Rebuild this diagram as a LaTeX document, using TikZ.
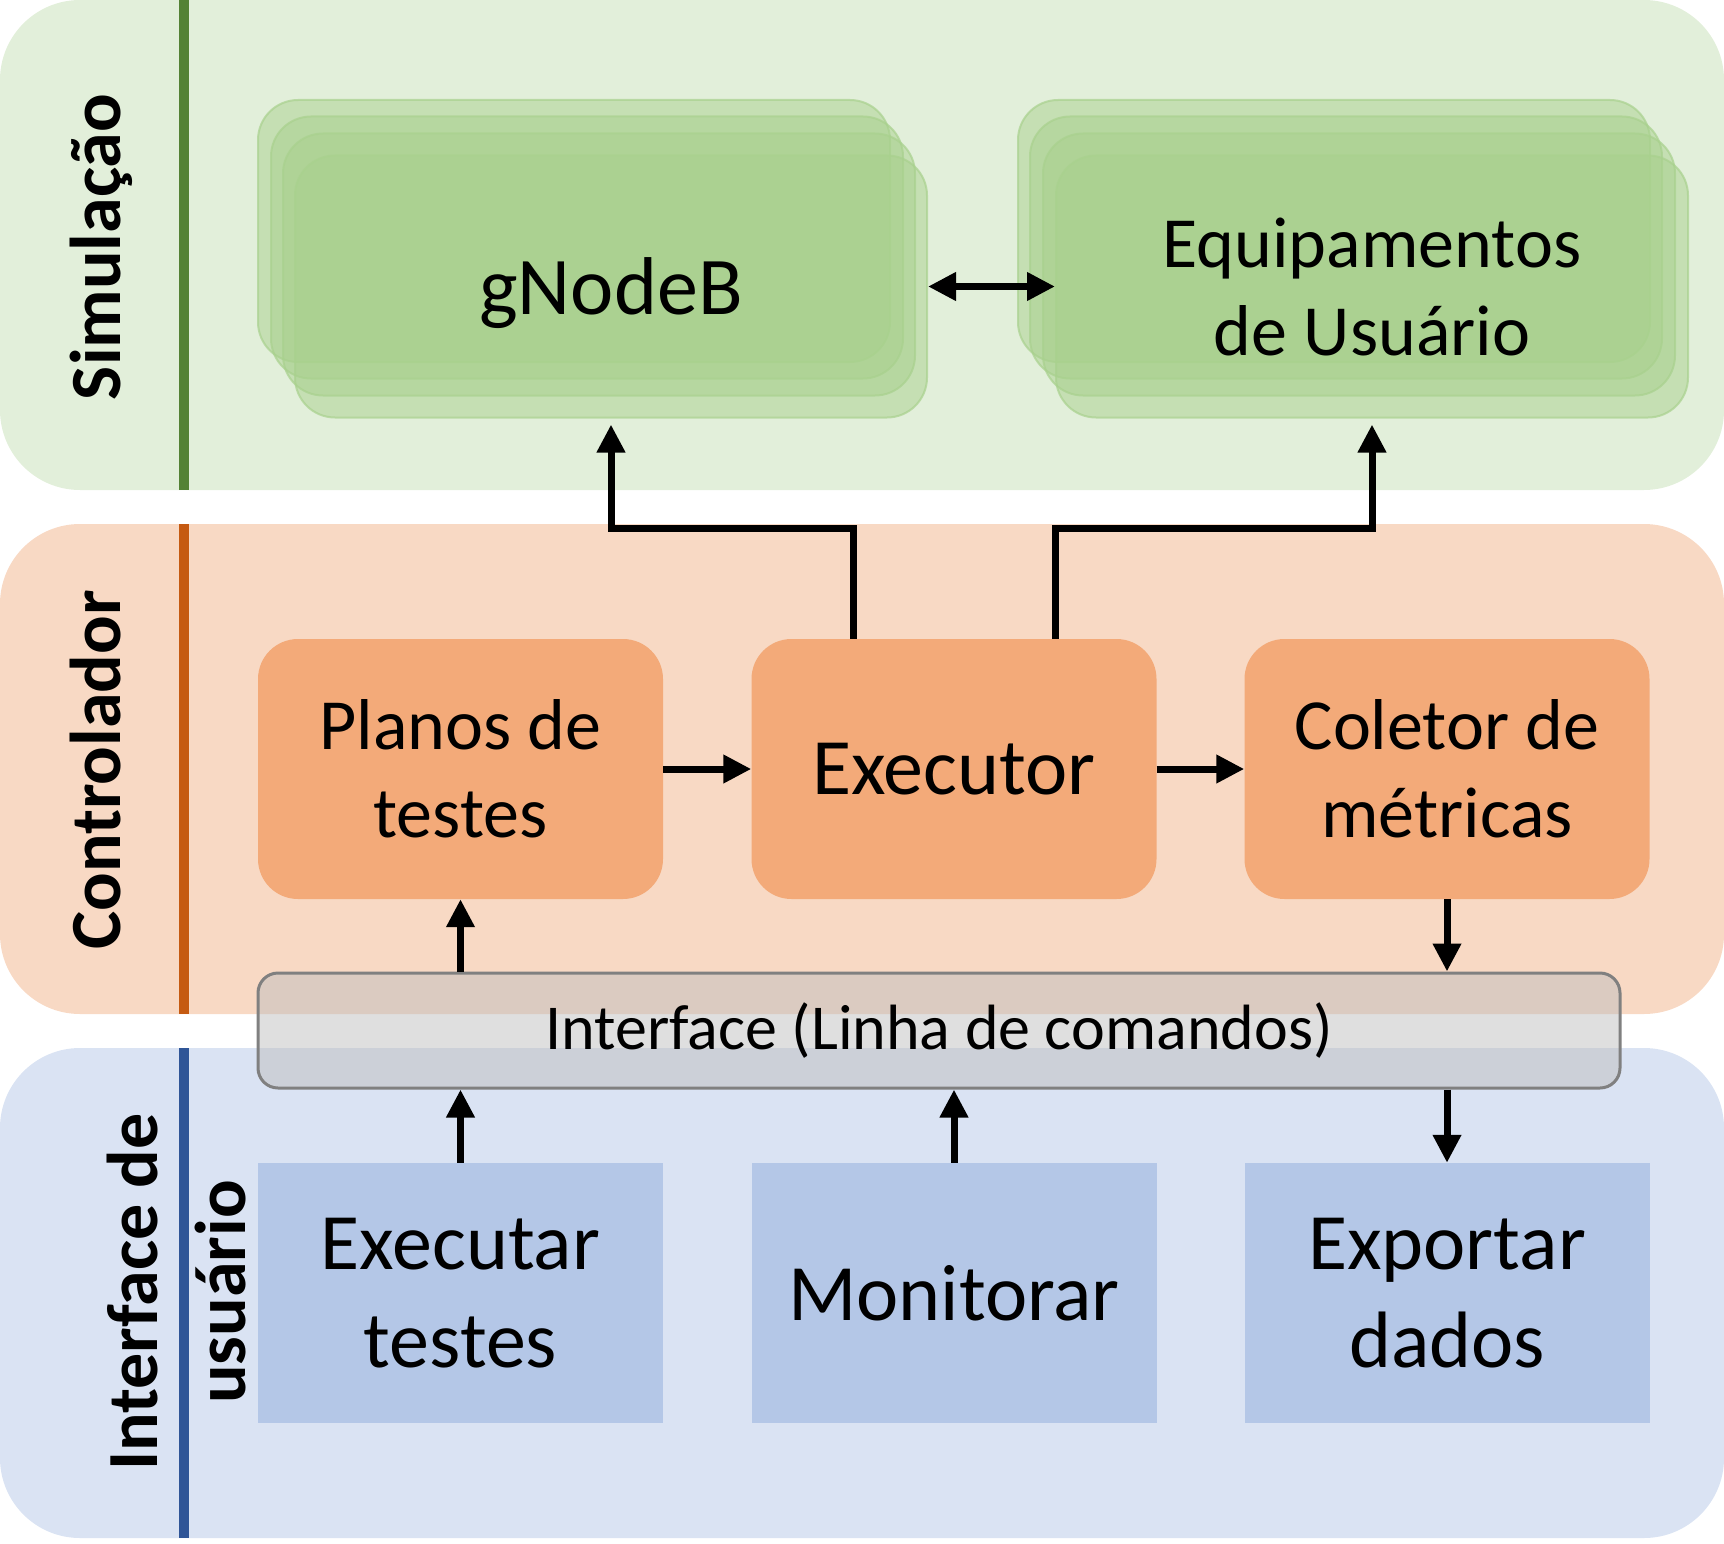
\documentclass[tikz,border=0pt]{standalone}
\usepackage{fontspec}
\setmainfont{Carlito}
\usetikzlibrary{arrows.meta,calc}
\definecolor{gpanel}{HTML}{E2EFDA}
\definecolor{gline}{HTML}{548235}
\definecolor{gboxc}{HTML}{A9D18E}
\definecolor{opanel}{HTML}{F8D9C4}
\definecolor{oline}{HTML}{C55A11}
\definecolor{oboxc}{HTML}{F3AA79}
\definecolor{bpanel}{HTML}{DAE3F3}
\definecolor{bline}{HTML}{2F5597}
\definecolor{bboxc}{HTML}{B4C7E7}
\definecolor{barfill}{HTML}{BFBFBF}
\definecolor{barline}{HTML}{808080}
\begin{document}
\begin{tikzpicture}[x=1pt,y=-1pt,
  panel/.style={rounded corners=80pt},
  sepline/.style={line width=10pt},
  lbl/.style={font=\bfseries\fontsize{72}{88}\selectfont, rotate=90, anchor=base, inner sep=0pt},
  gbox/.style={draw=gboxc, line width=2pt, draw opacity=0.7, fill=gboxc, fill opacity=0.5, text opacity=1,
    rounded corners=40pt, minimum width=632pt, minimum height=262pt, inner sep=0pt,
    font=\fontsize{72}{88}\selectfont},
  obox/.style={fill=oboxc, rounded corners=40pt, minimum width=405pt, minimum height=260pt,
    align=center, inner sep=0pt, font=\fontsize{72}{88}\selectfont},
  bbox/.style={fill=bboxc, minimum width=405pt, minimum height=260pt,
    align=center, inner sep=0pt, font=\fontsize{80}{98}\selectfont},
  arr/.style={line width=7pt, -{Triangle[length=28pt,width=27pt]}},
  darr/.style={line width=7pt, {Triangle[length=28pt,width=27pt]}-{Triangle[length=28pt,width=27pt]}},
]
\useasboundingbox (0,0) rectangle (1724,1544);
% panels
\fill[gpanel, panel] (0,0) rectangle (1724,490);
\fill[opanel, panel] (0,524) rectangle (1724,1014);
\fill[bpanel, panel] (0,1048) rectangle (1724,1538);
\draw[gline, sepline] (184,0) -- (184,490);
\draw[oline, sepline] (184,524) -- (184,1014);
\draw[bline, sepline] (184,1048) -- (184,1538);
% lane labels
\node[lbl] (lsim) at (120,247) {Simulação};
\node[lbl] (lctl) at (120,770) {Controlador};
\node[lbl, anchor=center, align=center] (lui) at (177,1292) {Interface de\\usuário};
% gNodeB stack
\node[gbox] (gnbA) at (574,231) {};
\node[gbox] (gnbB) at (587,247.5) {};
\node[gbox] (gnbC) at (599,264.5) {};
\node[gbox, text depth=0pt, font=\fontsize{82}{98}\selectfont] (gnb) at (611,286.5) {gNodeB};
% UE stack
\node[gbox] (ueA) at (1334,231) {};
\node[gbox] (ueB) at (1346,247.5) {};
\node[gbox] (ueC) at (1359,264.5) {};
\node[gbox, align=center] (ue) at (1372,286.5) {Equipamentos\\de Usuário};
% controller
\node[obox] (plan) at (460.5,769) {Planos de\\testes};
\node[obox, font=\fontsize{80}{98}\selectfont] (exec) at (954,769) {Executor};
\node[obox] (colet) at (1447,769) {Coletor de\\métricas};
% interface bar
\node[draw=barline, line width=3pt, fill=barfill, fill opacity=0.5, text opacity=1,
  rounded corners=20pt, minimum width=1362pt, minimum height=115pt, inner sep=0pt,
  font=\fontsize{64}{78}\selectfont] (iface) at (939,1030.5) {Interface (Linha de comandos)};
% user interface
\node[bbox] (runt) at (460.5,1293) {Executar\\testes};
\node[bbox] (mon) at (954,1293) {Monitorar};
\node[bbox] (expd) at (1447,1293) {Exportar\\dados};
% connectors
\draw[darr] (gnb.east) -- (ue.west);
\draw[arr] ([xshift=-101pt]exec.north) -- ++(0,-110) -| ([yshift=-6pt]gnb.south);
\draw[arr] ([xshift=101pt]exec.north) -- ++(0,-110) -| ([yshift=-6pt]ue.south);
\draw[arr] (plan.east) -- (exec.west);
\draw[arr] (exec.east) -- (colet.west);
\draw[arr] (plan.south |- iface.north) -- (plan.south);
\draw[arr] (colet.south) -- (colet.south |- iface.north);
\draw[arr] (runt.north) -- (runt.north |- iface.south);
\draw[arr] (mon.north) -- (mon.north |- iface.south);
\draw[arr] (expd.north |- iface.south) -- (expd.north);
\end{tikzpicture}
\end{document}
